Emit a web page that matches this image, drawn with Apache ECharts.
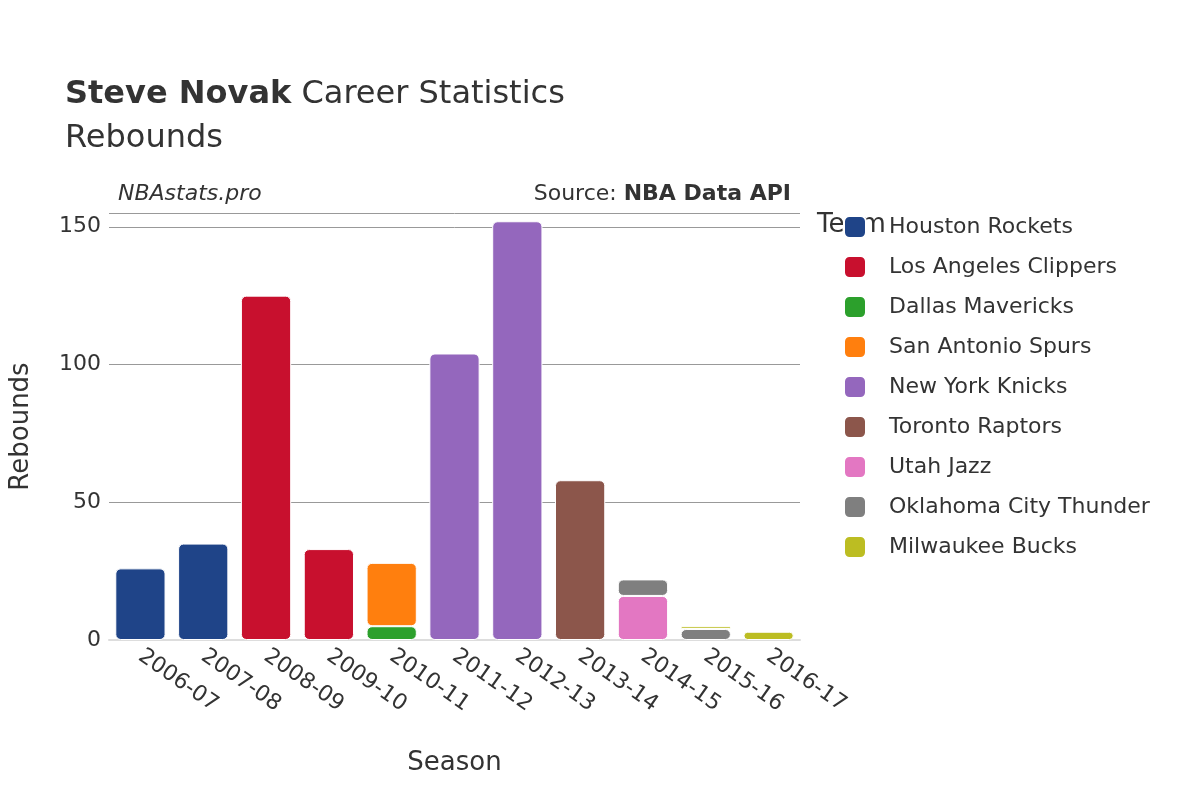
<!DOCTYPE html>
<html><head><meta charset="utf-8">
<script src="https://cdn.jsdelivr.net/npm/echarts@6/dist/echarts.min.js"></script>
<style>body{margin:0}#c{width:1200px;height:800px}</style></head>
<body><div id="c"></div>
<script>
const seasons = ['2006-07','2007-08','2008-09','2009-10','2010-11','2011-12','2012-13','2013-14','2014-15','2015-16','2016-17'];
const teams = ['Houston Rockets','Los Angeles Clippers','Dallas Mavericks','San Antonio Spurs','New York Knicks','Toronto Raptors','Utah Jazz','Oklahoma City Thunder','Milwaukee Bucks'];
const colors = ['#1f4488','#c8102e','#2ca02c','#ff7f0e','#9467bd','#8c564b','#e377c2','#7f7f7f','#bcbd22'];
const houston = [26,35,null,null,null,null,null,null,null,null,null];
const clippers = [null,null,125,33,null,null,null,null,null,null,null];
const dallas = [null,null,null,null,5,null,null,null,null,null,null];
const spurs = [null,null,null,null,23,null,null,null,null,null,null];
const knicks = [null,null,null,null,null,104,152,null,null,null,null];
const raptors = [null,null,null,null,null,null,null,58,null,null,null];
const jazz = [null,null,null,null,null,null,null,null,16,null,null];
const thunder = [null,null,null,null,null,null,null,null,6,4,null];
const bucks = [null,null,null,null,null,null,null,null,null,1,3];
const values = [houston,clippers,dallas,spurs,knicks,raptors,jazz,thunder,bucks];

const chart = echarts.init(document.getElementById('c'));
const font = 'DejaVu Sans';
chart.setOption({
  textStyle:{fontFamily:font},
  title:[
    {text:'{b|Steve Novak} Career Statistics\nRebounds',left:60,top:68,
     textStyle:{fontSize:32,fontWeight:'normal',color:'#333',lineHeight:44,fontFamily:font,
       rich:{b:{fontSize:32,fontWeight:'bold',color:'#333',fontFamily:font}}}},
    {text:'NBAstats.pro',left:113,top:178,textStyle:{fontSize:22,fontStyle:'italic',fontWeight:'normal',color:'#333'}},
    {text:'Source: {b|NBA Data API}',right:404,top:178,textStyle:{fontSize:22,fontWeight:'normal',color:'#333',rich:{b:{fontSize:22,fontWeight:'bold',color:'#333'}}}}
  ],
  legend:{orient:'vertical',left:838,top:210,itemWidth:22,itemHeight:22,itemGap:16,
    icon:'roundRect',data:teams,
    title:{},textStyle:{fontSize:22,color:'#333',padding:[0,0,0,18]}},
  graphic:[{type:'text',left:817,top:212,style:{text:'Team',fontSize:26,fill:'#333',fontFamily:font}}],
  grid:{left:108,right:400,top:213,bottom:160},
  xAxis:{type:'category',data:seasons,name:'Season',nameLocation:'middle',nameGap:110,
    nameTextStyle:{fontSize:26,color:'#333'},
    axisTick:{show:false},axisLine:{lineStyle:{color:'#ddd',width:2}},
    axisLabel:{rotate:-35,fontSize:22,color:'#333',margin:14,align:'left'}},
  yAxis:{type:'value',min:0,max:155,interval:50,name:'Rebounds',nameLocation:'middle',nameGap:75,
    nameTextStyle:{fontSize:26,color:'#333'},
    axisLabel:{fontSize:22,color:'#333',showMaxLabel:false},
    splitLine:{lineStyle:{color:'#999'}}},
  series: teams.map((t,i)=>({name:t,type:'bar',stack:'a',data:values[i],barCategoryGap:'20%',
    itemStyle:{color:colors[i],borderRadius:5,borderColor:'#fff',borderWidth:1}}))
});
</script></body></html>
